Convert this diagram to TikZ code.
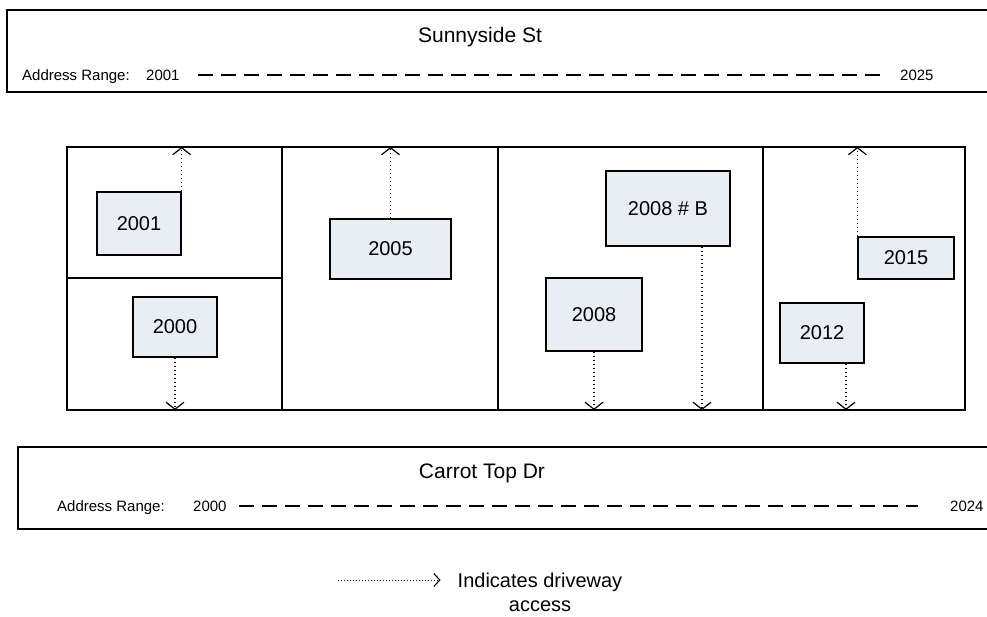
\documentclass[tikz,border=0pt]{standalone}
\usepackage{fontspec}
\setmainfont{Liberation Sans}
\usetikzlibrary{arrows.meta}
\definecolor{housefill}{HTML}{E9EDF4}

\begin{document}
\begin{tikzpicture}[x=1pt,y=-1pt,
    house/.style={draw,fill=housefill,line width=1.3pt,inner sep=0pt,font=\fontsize{20}{24}\selectfont},
    small/.style={inner sep=0pt,font=\fontsize{15}{18}\selectfont},
    street/.style={inner sep=0pt,font=\fontsize{21}{25}\selectfont},
    border/.style={line width=1.6pt},
    rangeline/.style={line width=2pt,dash pattern=on 15pt off 8pt},
    drive/.style={line width=1.2pt,dash pattern=on 1.2pt off 2.8pt,-{Straight Barb[length=7pt,width=18pt,line width=1.2pt]}},
    keyarrow/.style={line width=1pt,dash pattern=on 1pt off 2pt,-{Straight Barb[length=6pt,width=13pt,line width=1.1pt]}}]

    \useasboundingbox (0,0) rectangle (987,616);

    % Sunnyside St
    \draw[border] (995,10) -- (7,10) -- (7,92) -- (995,92);
    \node[street] (sunny) [anchor=base] at (480,42) {Sunnyside St};
    \node[small] (srange) [anchor=base west] at (22,80) {Address Range:};
    \node[small] (s2001) [anchor=base west] at (146,80) {2001};
    \node[small] (s2025) [anchor=base west] at (900,80) {2025};
    \draw[rangeline,shorten <=18pt,shorten >=20pt] (s2001.east) -- (s2025.west);

    % lots
    \node[draw,border,outer sep=0pt,minimum width=898pt,minimum height=263pt,anchor=north west] (lots) at (67,147) {};
    \draw[border] (282,147) -- (282,410);
    \draw[border] (498,147) -- (498,410);
    \draw[border] (763,147) -- (763,410);
    \draw[border] (67,278) -- (282,278);

    % houses
    \node[house,minimum width=84pt,minimum height=63pt] (h2001) at (139,223.5) {2001};
    \node[house,minimum width=84pt,minimum height=60pt] (h2000) at (175,327) {2000};
    \node[house,minimum width=121pt,minimum height=60pt] (h2005) at (390.5,249) {2005};
    \node[house,minimum width=124pt,minimum height=75pt] (h2008b) at (668,208.5) {2008 \# B};
    \node[house,minimum width=96pt,minimum height=73pt] (h2008) at (594,314.5) {2008};
    \node[house,minimum width=96pt,minimum height=42pt] (h2015) at (906,258) {2015};
    \node[house,minimum width=84pt,minimum height=60pt] (h2012) at (822,333) {2012};

    % driveways
    \draw[drive] (h2001.north east) -- (h2001.north east |- lots.north);
    \draw[drive] (h2000.south) -- (h2000.south |- lots.south);
    \draw[drive] (h2005.north) -- (h2005.north |- lots.north);
    \draw[drive] ([xshift=34pt]h2008b.south) -- ([xshift=34pt]h2008b.south |- lots.south);
    \draw[drive] (h2008.south) -- (h2008.south |- lots.south);
    \draw[drive] (h2015.north west) -- (h2015.north west |- lots.north);
    \draw[drive] ([xshift=24pt]h2012.south) -- ([xshift=24pt]h2012.south |- lots.south);

    % Carrot Top Dr
    \draw[border] (995,447) -- (18,447) -- (18,529) -- (995,529);
    \node[street] (carrot) [anchor=base] at (482,478) {Carrot Top Dr};
    \node[small] (crange) [anchor=base west] at (57,511) {Address Range:};
    \node[small] (c2000) [anchor=base west] at (193,511) {2000};
    \node[small] (c2024) [anchor=base west] at (950,511) {2024};
    \draw[rangeline,shorten <=12pt,shorten >=32pt] (c2000.east) -- (c2024.west);

    % legend
    \node[align=center,inner sep=0pt,font=\fontsize{20}{24}\selectfont] (legend) [anchor=base] at (540,611) {Indicates driveway\\access};
    \coordinate (keystart) at (338,580);
    \draw[keyarrow,shorten >=17pt] (keystart) -- (keystart -| legend.west);
\end{tikzpicture}
\end{document}
